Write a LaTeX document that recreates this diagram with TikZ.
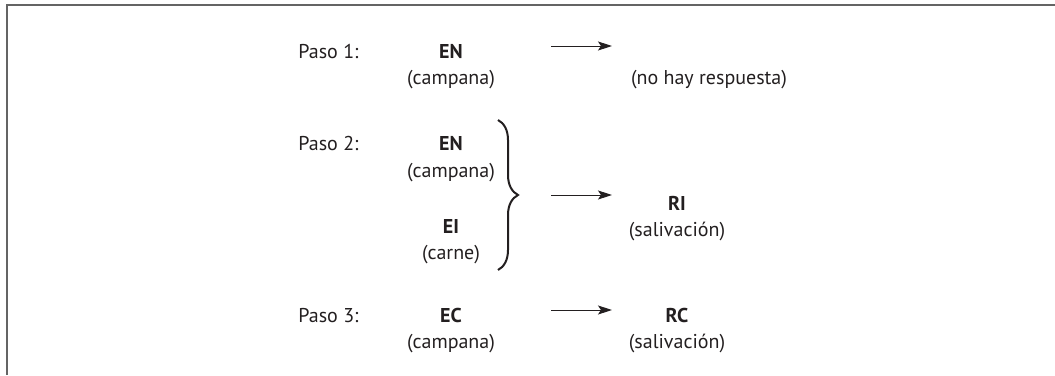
\documentclass[tikz,border=0pt]{standalone}
\usepackage{fontspec}
\setmainfont{PT Sans}
\usepackage{tikz}
\usetikzlibrary{arrows.meta,decorations.pathreplacing}
\definecolor{M}{RGB}{100, 100, 100}
\definecolor{T}{RGB}{35, 31, 32}

\begin{document}
\begin{tikzpicture}[x=0.5pt,y=-0.5pt,
    texto/.style={inner sep=0pt,text=T,font=\fontsize{10pt}{13pt}\selectfont},
    paso/.style={texto,anchor=base west},
    item/.style={texto,anchor=base},
    negrita/.style={item,font=\fontsize{10pt}{13pt}\selectfont\bfseries},
    flecha/.style={line width=0.5pt,color=T,-{Stealth[length=7pt,width=4.5pt,inset=1.5pt]}}]
    \useasboundingbox (0,0) rectangle (1055,375);

    %Marco: solo linea superior e izquierda
    \draw[color=M,line width=1pt] (7,375) -- (7,5) -- (1055,5);

    %Paso 1
    \node[paso] (paso1) at (298,58) {Paso 1:};
    \node[negrita] (en1) at (451,58) {EN};
    \node[item] (camp1) at (451,84) {(campana)};
    \coordinate (f1a) at (551,46);
    \coordinate (f1b) at (612,46);
    \draw[flecha] (f1a) -- (f1b);
    \node[item] (nohay) at (709,84) {(no hay respuesta)};

    %Paso 2
    \node[paso] (paso2) at (298,150) {Paso 2:};
    \node[negrita] (en2) at (451,150) {EN};
    \node[item] (camp2) at (451,177) {(campana)};
    \node[negrita] (ei) at (451,233) {EI};
    \node[item] (carne) at (451,259) {(carne)};
    % llave que junta EN y EI
    \coordinate (ll1) at (498,120);
    \coordinate (ll2) at (498,270);
    \draw[color=T,line width=1pt,decorate,decoration={brace,amplitude=10pt}] (ll1) -- (ll2);
    \coordinate (f2a) at (551,195);
    \coordinate (f2b) at (612,195);
    \draw[flecha] (f2a) -- (f2b);
    \node[negrita] (ri) at (677,210) {RI};
    \node[item] (sal2) at (677,236) {(salivación)};

    %Paso 3
    \node[paso] (paso3) at (298,322) {Paso 3:};
    \node[negrita] (ec) at (451,322) {EC};
    \node[item] (camp3) at (451,348) {(campana)};
    \coordinate (f3a) at (551,310);
    \coordinate (f3b) at (612,310);
    \draw[flecha] (f3a) -- (f3b);
    \node[negrita] (rc) at (677,322) {RC};
    \node[item] (sal3) at (677,348) {(salivación)};
\end{tikzpicture}
\end{document}
